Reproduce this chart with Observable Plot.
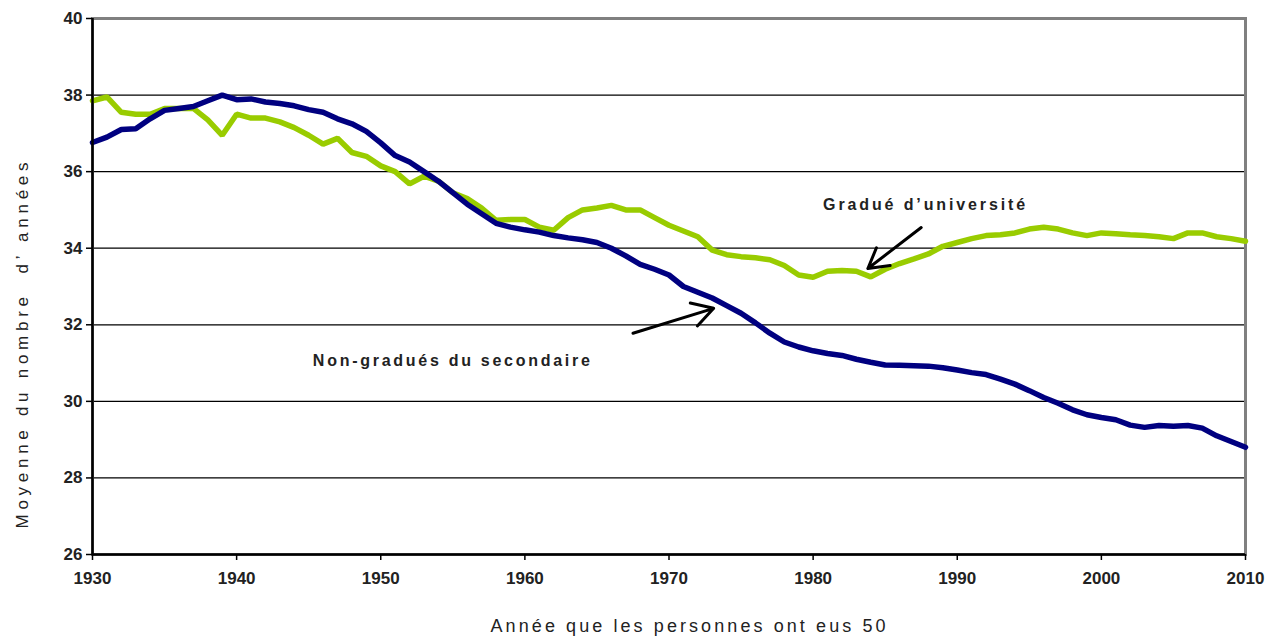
<!DOCTYPE html>
<html><head><meta charset="utf-8">
<script src="https://cdn.jsdelivr.net/npm/d3@7"></script>
<script src="https://cdn.jsdelivr.net/npm/@observablehq/plot@0.6"></script>
<style>
html,body{margin:0;padding:0;background:#fff;}
#chart{width:1278px;height:643px;overflow:hidden;}
</style></head><body><div id="chart"></div>
<script>
const years = [1930,1931,1932,1933,1934,1935,1936,1937,1938,1939,
  1940,1941,1942,1943,1944,1945,1946,1947,1948,1949,
  1950,1951,1952,1953,1954,1955,1956,1957,1958,1959,
  1960,1961,1962,1963,1964,1965,1966,1967,1968,1969,
  1970,1971,1972,1973,1974,1975,1976,1977,1978,1979,
  1980,1981,1982,1983,1984,1985,1986,1987,1988,1989,
  1990,1991,1992,1993,1994,1995,1996,1997,1998,1999,
  2000,2001,2002,2003,2004,2005,2006,2007,2008,2009,2010];

const universite = [37.85,37.95,37.55,37.5,37.5,37.65,37.65,37.65,37.35,36.95,
  37.5,37.4,37.4,37.3,37.15,36.95,36.72,36.87,36.5,36.4,
  36.15,36.0,35.68,35.88,35.75,35.45,35.3,35.05,34.73,34.75,
  34.75,34.55,34.47,34.8,35.0,35.05,35.12,35.0,35.0,34.8,
  34.6,34.45,34.3,33.95,33.83,33.78,33.75,33.7,33.55,33.3,
  33.24,33.4,33.42,33.4,33.25,33.45,33.6,33.72,33.85,34.05,
  34.15,34.25,34.33,34.35,34.4,34.5,34.55,34.5,34.4,34.33,
  34.4,34.38,34.35,34.33,34.3,34.25,34.4,34.4,34.3,34.25,34.18];

const nonGradues = [36.76,36.9,37.1,37.12,37.38,37.6,37.65,37.7,37.85,38.0,
  37.88,37.9,37.82,37.78,37.72,37.62,37.55,37.38,37.25,37.05,
  36.75,36.42,36.25,36.0,35.75,35.45,35.15,34.9,34.65,34.55,
  34.48,34.42,34.33,34.27,34.22,34.15,34.0,33.8,33.58,33.45,
  33.3,33.0,32.85,32.7,32.5,32.3,32.05,31.78,31.55,31.42,
  31.32,31.25,31.2,31.1,31.02,30.95,30.94,30.93,30.92,30.88,
  30.82,30.75,30.7,30.58,30.45,30.28,30.1,29.95,29.78,29.65,
  29.58,29.52,29.38,29.32,29.37,29.35,29.37,29.3,29.1,28.95,28.8];

const seriesNames = ["Gradué d’université", "Non-gradués du secondaire"];
const xTicks = [1930,1940,1950,1960,1970,1980,1990,2000,2010];
const yTicks = [26,28,30,32,34,36,38,40];
const gridValues = [28,30,32,34,36,38];
const xTitle = "Année que les personnes ont eus 50";
const yTitle = "Moyenne du nombre  d’ années";

const rows = years.flatMap((yr, i) => [
  {annee: yr, valeur: universite[i], serie: seriesNames[0]},
  {annee: yr, valeur: nonGradues[i], serie: seriesNames[1]}
]);

const font = "'Liberation Sans', Arial, Helvetica, sans-serif";

const chart = Plot.plot({
  width: 1278,
  height: 643,
  marginLeft: 92,
  marginRight: 33,
  marginTop: 18,
  marginBottom: 89,
  style: {fontFamily: font, fontSize: "17px", color: "#111", background: "#fff", overflow: "visible"},
  x: {domain: [1930, 2010]},
  y: {domain: [26, 40]},
  color: {domain: seriesNames, range: ["#99cc00", "#000080"]},
  marks: [
    Plot.ruleY(gridValues, {stroke: "#000", strokeWidth: 1.3}),
    Plot.frame({stroke: "#808080", strokeWidth: 3}),
    Plot.line(rows, {x: "annee", y: "valeur", z: "serie", stroke: "serie", strokeWidth: 5.5, strokeLinejoin: "miter"}),
    Plot.ruleX([1930], {stroke: "#000", strokeWidth: 2.5}),
    Plot.ruleY([26], {stroke: "#000", strokeWidth: 2.5}),
    Plot.axisY({ticks: yTicks, tickSize: 6, tickPadding: 4, tickFormat: d => String(d), label: null, stroke: "#000", strokeWidth: 1.5, fill: "#222", fontWeight: "bold", fontSize: 17}),
    Plot.axisX({ticks: xTicks, tickSize: 6, tickPadding: 11, tickFormat: d => String(d), label: null, stroke: "#000", strokeWidth: 1.5, fill: "#222", fontWeight: "bold", fontSize: 17}),
    Plot.arrow([{x1: 1967.5, y1: 31.78, x2: 1973.1, y2: 32.43}], {x1: "x1", y1: "y1", x2: "x2", y2: "y2", stroke: "#000", strokeWidth: 3, headLength: 12}),
    Plot.arrow([{x1: 1987.5, y1: 34.54, x2: 1983.8, y2: 33.47}], {x1: "x1", y1: "y1", x2: "x2", y2: "y2", stroke: "#000", strokeWidth: 3, headLength: 12}),
    Plot.text([seriesNames[0]], {x: () => 1987.7, y: () => 35.12, text: d => d, fontSize: 16, fontWeight: "bold", fill: "#222"}),
    Plot.text([seriesNames[1]], {x: () => 1954.9, y: () => 31.07, text: d => d, fontSize: 16, fontWeight: "bold", fill: "#222"}),
    Plot.text([xTitle], {frameAnchor: "bottom", textAnchor: "middle", dx: 19, dy: 77, text: d => d, fontSize: 18, fill: "#222"}),
    Plot.text([yTitle], {frameAnchor: "left", textAnchor: "middle", rotate: -90, dx: -70, dy: 59, text: d => d, fontSize: 17, fill: "#222"})
  ]
});

document.getElementById("chart").appendChild(chart);

// stretch the spaced-out texts to the widths seen in the reference
const widths = new Map([
  [seriesNames[0], 202],
  [seriesNames[1], 277],
  [xTitle, 395],
  [yTitle, 366]
]);
d3.select(chart).selectAll("text").each(function() {
  const w = widths.get(this.textContent);
  if (w) {
    this.setAttribute("textLength", w);
    this.setAttribute("lengthAdjust", "spacing");
    this.setAttribute("xml:space", "preserve");
    this.style.whiteSpace = "pre";
  }
});
</script>
</body></html>
